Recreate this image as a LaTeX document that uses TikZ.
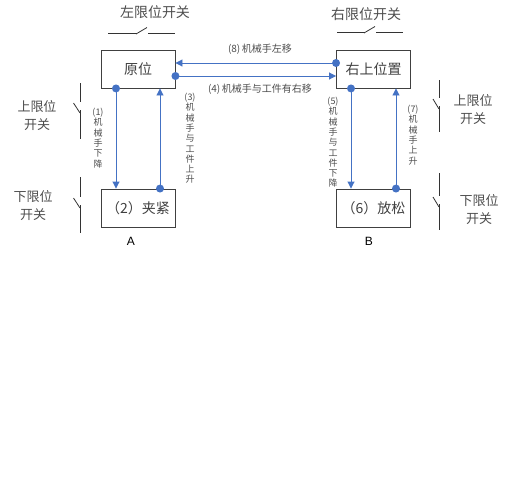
\documentclass[tikz,border=0pt]{standalone}
\usepackage{fontspec}
\setmainfont{Noto Sans CJK SC}
\setsansfont{Liberation Sans}
\usetikzlibrary{arrows.meta}
\definecolor{cblue}{HTML}{4472C4}
\begin{document}
\begin{tikzpicture}[x=1pt,y=-1pt,
  box/.style={draw=black!75, line width=0.9pt, minimum width=74pt, minimum height=38pt, inner sep=0pt, font=\fontsize{14}{14}\selectfont, text=black!75},
  conn/.style={draw=cblue, line width=0.9pt, -{Triangle[length=7pt,width=7pt]}},
  dotc/.style={fill=cblue},
  hlbl/.style={font=\fontsize{10}{10}\selectfont, text=black!70, inner sep=0pt},
  lbl/.style={font=\fontsize{9}{10.3}\selectfont, align=center, text=black!70, inner sep=0pt},
  sw/.style={line width=0.8pt, draw=black!80},
  big/.style={font=\fontsize{14}{18}\selectfont, align=center, text=black!70, inner sep=0pt},
  side/.style={font=\fontsize{13}{18}\selectfont, align=center, text=black!70, inner sep=0pt},
  ab/.style={font=\sffamily\fontsize{12}{12}\selectfont, inner sep=0pt}
]
\useasboundingbox (0,0) rectangle (515,480);

% boxes
\node[box] (yw) at (138,69) {原位};
\node[box] (ys) at (373.5,69) {右上位置};
\node[box] (jj) at (138,208) {（2）夹紧};
\node[box] (fs) at (373.5,208) {（6）放松};

% vertical connectors left
\coordinate (a1) at ([xshift=-22pt]yw.south);
\coordinate (a2) at ([xshift=-22pt]jj.north);
\draw[conn] (a1) -- (a2);
\fill[dotc] (a1) circle (4);
\coordinate (b1) at ([xshift=22pt]jj.north);
\coordinate (b2) at ([xshift=22pt]yw.south);
\draw[conn] (b1) -- (b2);
\fill[dotc] (b1) circle (4);

% vertical connectors right
\coordinate (c1) at ([xshift=-22.5pt]ys.south);
\coordinate (c2) at ([xshift=-22.5pt]fs.north);
\draw[conn] (c1) -- (c2);
\fill[dotc] (c1) circle (4);
\coordinate (d1) at ([xshift=22.5pt]fs.north);
\coordinate (d2) at ([xshift=22.5pt]ys.south);
\draw[conn] (d1) -- (d2);
\fill[dotc] (d1) circle (4);

% horizontal connectors
\coordinate (e1) at ([yshift=6pt]ys.west);
\coordinate (e2) at ([yshift=6pt]yw.east);
\draw[conn] (e1) -- (e2);
\fill[dotc] (e1) circle (4);
\coordinate (f1) at ([yshift=-7pt]yw.east);
\coordinate (f2) at ([yshift=-7pt]ys.west);
\draw[conn] (f1) -- (f2);
\fill[dotc] (f1) circle (4);

% connector labels
\node[hlbl] (l8) at (260,49) {(8)\,机械手左移};
\node[hlbl] (l4) at (260,89) {(4)\,机械手与工件有右移};
\node[lbl, anchor=north] (l1) at (98,108) {(1)\\机\\械\\手\\下\\降};
\node[lbl, anchor=north] (l3) at (190,93) {(3)\\机\\械\\手\\与\\工\\件\\上\\升};
\node[lbl, anchor=north] (l5) at (333,97) {(5)\\机\\械\\手\\与\\工\\件\\下\\降};
\node[lbl, anchor=north] (l7) at (413,105) {(7)\\机\\械\\手\\上\\升};

% top switches
\node[big] (tl) at (155,12) {左限位开关};
\draw[sw] (108,33) -- (137,33);
\draw[sw] (136,34) -- (147,27.5);
\draw[sw] (148,33) -- (175,33);
\node[big] (tr) at (366,14) {右限位开关};
\draw[sw] (337,32) -- (365,32);
\draw[sw] (364,33) -- (375,26.5);
\draw[sw] (376,32) -- (403,32);

% left side switches
\node[side] (ul) at (37,116) {上限位\\开关};
\draw[sw] (80,83) -- (80,102);
\draw[sw] (73.5,103) -- (80,113);
\draw[sw] (80,110) -- (80,139);
\node[side] (dl) at (33,206) {下限位\\开关};
\draw[sw] (80,177) -- (80,197);
\draw[sw] (73.5,198) -- (80,208);
\draw[sw] (80,205) -- (80,233);

% right side switches
\node[side] (ur) at (473,110) {上限位\\开关};
\draw[sw] (439,80) -- (439,98);
\draw[sw] (433,99) -- (439,109);
\draw[sw] (439,106) -- (439,132);
\node[side] (dr) at (479,210) {下限位\\开关};
\draw[sw] (439,173) -- (439,196);
\draw[sw] (433,197) -- (439,207);
\draw[sw] (439,204) -- (439,230);

% A / B
\node[ab] (A) at (131,241) {A};
\node[ab] (B) at (369,241) {B};
\end{tikzpicture}
\end{document}
